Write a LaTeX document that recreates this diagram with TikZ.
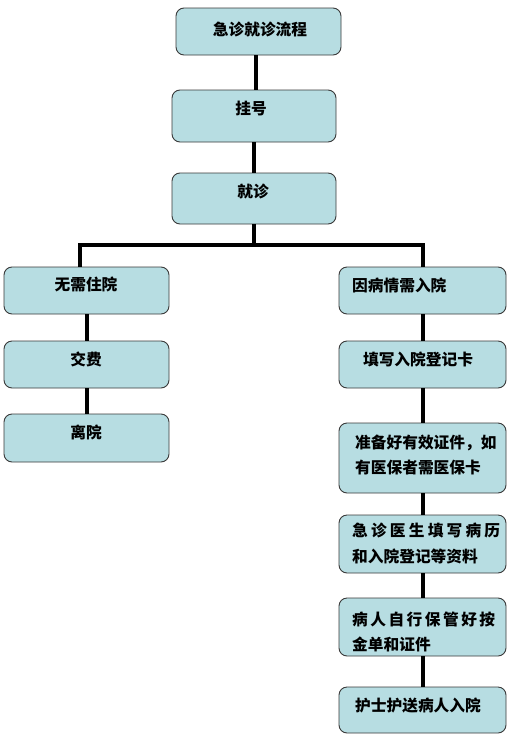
\documentclass[tikz,border=0pt]{standalone}
\usepackage{fontspec}
\newfontfamily\cjk{Noto Sans CJK SC}
\definecolor{boxfill}{HTML}{B7DDE2}
\definecolor{boxline}{HTML}{3A3A3A}
\begin{document}
\begin{tikzpicture}[x=1pt,y=-1pt,
  box/.style={draw=boxline, line width=0.9pt, fill=boxfill, rounded corners=8pt, inner sep=0pt},
  conn/.style={line width=3.1pt, black},
  txt/.style={inner sep=0pt, font=\cjk\bfseries\fontsize{15.7}{25.5}\selectfont}]
\useasboundingbox (0,0) rectangle (513,742);
% boxes
\node[box, minimum width=165pt, minimum height=47pt] (top) at (258.5,31.5) {};
\node[box, minimum width=164pt, minimum height=52pt] (gh) at (254,116) {};
\node[box, minimum width=164pt, minimum height=51pt] (jz) at (254,198.5) {};
\node[box, minimum width=165pt, minimum height=47pt] (l1) at (86.5,290.5) {};
\node[box, minimum width=165pt, minimum height=47pt] (l2) at (86.5,364.5) {};
\node[box, minimum width=165pt, minimum height=48pt] (l3) at (86.5,438) {};
\node[box, minimum width=167pt, minimum height=47pt] (r1) at (422.5,290.5) {};
\node[box, minimum width=167pt, minimum height=47pt] (r2) at (422.5,364.5) {};
\node[box, minimum width=167pt, minimum height=70pt] (r3) at (422.5,458) {};
\node[box, minimum width=167pt, minimum height=58pt] (r4) at (422.5,544) {};
\node[box, minimum width=167pt, minimum height=58pt] (r5) at (422.5,627) {};
\node[box, minimum width=167pt, minimum height=46pt] (r6) at (422.5,710) {};
% connectors
\coordinate (bm) at (254,245);
\coordinate (bl) at (80,245);
\coordinate (brr) at (423,245);
\draw[conn] (256,0 |- top.south) -- (256,0 |- gh.north);
\draw[conn] (gh.south) -- (jz.north);
\draw[conn] (jz.south) -- (bm);
\draw[conn] (bl |- l1.north) -- (bl) -- (brr) -- (brr |- r1.north);
\draw[conn] (87,0 |- l1.south) -- (87,0 |- l2.north);
\draw[conn] (87,0 |- l2.south) -- (87,0 |- l3.north);
\draw[conn] (brr |- r1.south) -- (brr |- r2.north);
\draw[conn] (brr |- r2.south) -- (brr |- r3.north);
\draw[conn] (brr |- r3.south) -- (brr |- r4.north);
\draw[conn] (brr |- r4.south) -- (brr |- r5.north);
\draw[conn] (brr |- r5.south) -- (brr |- r6.north);
% texts
\node[txt, anchor=base] (ttop) at (260,35) {急诊就诊流程};
\node[txt, anchor=base] (tgh) at (251,114) {挂号};
\node[txt, anchor=base] (tjz) at (253,197) {就诊};
\node[txt, anchor=base] (tl1) at (86,290) {无需住院};
\node[txt, anchor=base] (tl2) at (86,365) {交费};
\node[txt, anchor=base] (tl3) at (86,438) {离院};
\node[txt, anchor=base west] (tr1) at (352,291) {因病情需入院};
\node[txt, anchor=base] (tr2) at (418,365) {填写入院登记卡};
\node[txt, anchor=base west] (tr3a) at (355,448) {准备好有效证件，如};
\node[txt, anchor=base west] (tr3b) at (355,473) {有医保者需医保卡};
\node[txt, anchor=base west] (tr4a) at (352,536) {\makebox[148pt][s]{急\hfill 诊\hfill 医\hfill 生\hfill 填\hfill 写\hfill 病\hfill 历}};
\node[txt, anchor=base west] (tr4b) at (352,562) {和入院登记等资料};
\node[txt, anchor=base west] (tr5a) at (352,625) {\makebox[143pt][s]{病\hfill 人\hfill 自\hfill 行\hfill 保\hfill 管\hfill 好\hfill 按}};
\node[txt, anchor=base west] (tr5b) at (352,650) {金单和证件};
\node[txt, anchor=base west] (tr6) at (355,711) {护士护送病人入院};
\end{tikzpicture}
\end{document}
